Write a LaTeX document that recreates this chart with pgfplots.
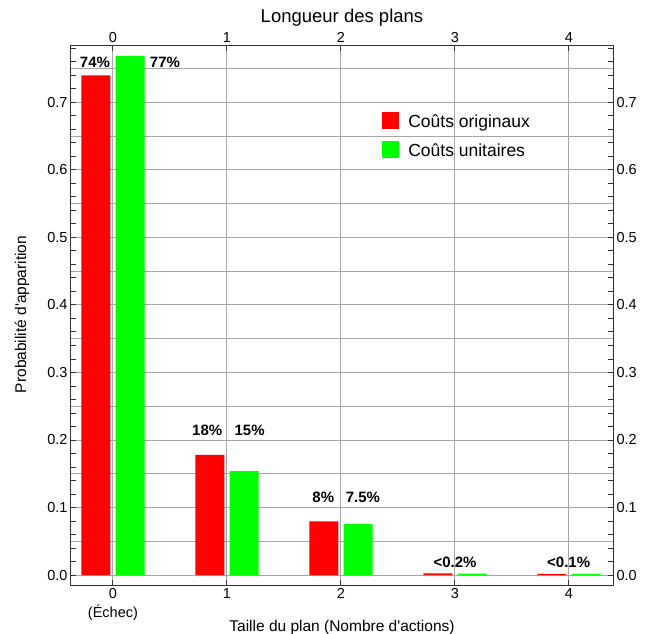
\documentclass[border=0pt]{standalone}
\usepackage{fontspec}
\setmainfont{Liberation Sans}[Ligatures=TeXOff]
\usepackage{pgfplots}
\pgfplotsset{compat=1.18}
\definecolor{gridc}{HTML}{A6A6A6}
\definecolor{axc}{HTML}{333333}
\begin{document}
\begin{tikzpicture}
\pgfplotsset{
  common/.style={
    scale only axis, width=542bp, height=539bp,
    xmin=-0.368, xmax=4.386, ymin=-0.0148, ymax=0.7837,
    xtick={0,1,2,3,4},
    ytick={0,0.1,0.2,0.3,0.4,0.5,0.6,0.7},
    yticklabels={0.0,0.1,0.2,0.3,0.4,0.5,0.6,0.7},
    tick label style={font=\fontsize{14.5bp}{19bp}\selectfont},
  }
}
\begin{axis}[common,
  axis line style={axc, line width=1bp},
  tick style={axc, line width=1bp},
  major tick length=5bp, minor tick length=5bp,
  xticklabels={{0\\(Échec)},1,2,3,4},
  xticklabel style={align=center},
  minor ytick={0.02,0.04,0.06,0.08,0.12,0.14,0.16,0.18,0.22,0.24,0.26,0.28,0.32,0.34,0.36,0.38,0.42,0.44,0.46,0.48,0.52,0.54,0.56,0.58,0.62,0.64,0.66,0.68,0.72,0.74,0.76,0.78},
  xmajorgrids, ymajorgrids,
  major grid style={gridc, line width=1bp},
  extra y ticks={0.05,0.15,0.25,0.35,0.45,0.55,0.65,0.75},
  extra y tick labels={},
  extra y tick style={major tick length=0pt, grid=major},
  xlabel={Taille du plan (Nombre d'actions)},
  xlabel style={at={(rel axis cs:0.5,0)}, anchor=center, yshift=-42bp, font=\fontsize{15.5bp}{18bp}\selectfont},
  ylabel={Probabilité d'apparition},
  ylabel style={at={(rel axis cs:0,0.502)}, anchor=center, yshift=49bp, font=\fontsize{15.5bp}{18bp}\selectfont},
  legend style={draw=none, fill=none, at={(rel axis cs:0.5685,0.8816)}, anchor=north west,
    font=\fontsize{17.5bp}{20bp}\selectfont, row sep=10.5bp,
    /tikz/every odd column/.append style={column sep=7bp}},
  legend cell align=left,
  legend image code/.code={\fill[#1] (0bp,-7.5bp) rectangle (17bp,9.5bp);},
]
\addplot[ybar, bar width=0.255, bar shift=-0.15, fill=red, draw=none]
  coordinates {(0,0.740) (1,0.178) (2,0.0795) (3,0.0025) (4,0.0018)};
\addplot[ybar, bar width=0.255, bar shift=0.15, fill={rgb,255:red,0;green,255;blue,0}, draw=none]
  coordinates {(0,0.769) (1,0.154) (2,0.0755) (3,0.0020) (4,0.0015)};
\legend{Coûts originaux, Coûts unitaires}
\begin{scope}[every node/.style={font=\bfseries\fontsize{15bp}{18bp}\selectfont, inner sep=0pt, anchor=center}]
\node at (axis cs:-0.158,0.759) {74\%};
\node at (axis cs:0.456,0.759) {77\%};
\node at (axis cs:0.827,0.215) {18\%};
\node at (axis cs:1.199,0.215) {15\%};
\node at (axis cs:1.845,0.1148) {8\%};
\node at (axis cs:2.193,0.1148) {7.5\%};
\node at (axis cs:3.0,0.0185) {<0.2\%};
\node at (axis cs:3.997,0.0185) {<0.1\%};
\end{scope}
\coordinate (sw) at (rel axis cs:0,0);
\end{axis}
\begin{axis}[common,
  axis line style={draw=none},
  tick style={draw=none},
  major tick length=0pt, minor tick length=0pt,
  xticklabels={0,1,2,3,4},
  xticklabel pos=right, yticklabel pos=right,
  xlabel={Longueur des plans},
  xlabel style={at={(rel axis cs:0.5,1)}, anchor=center, yshift=28bp, font=\fontsize{18.5bp}{22bp}\selectfont},
]
\end{axis}
\pgfresetboundingbox
\path[use as bounding box] (sw) ++(-71bp,-49bp) rectangle ++(650bp,634bp);
\end{tikzpicture}
\end{document}
